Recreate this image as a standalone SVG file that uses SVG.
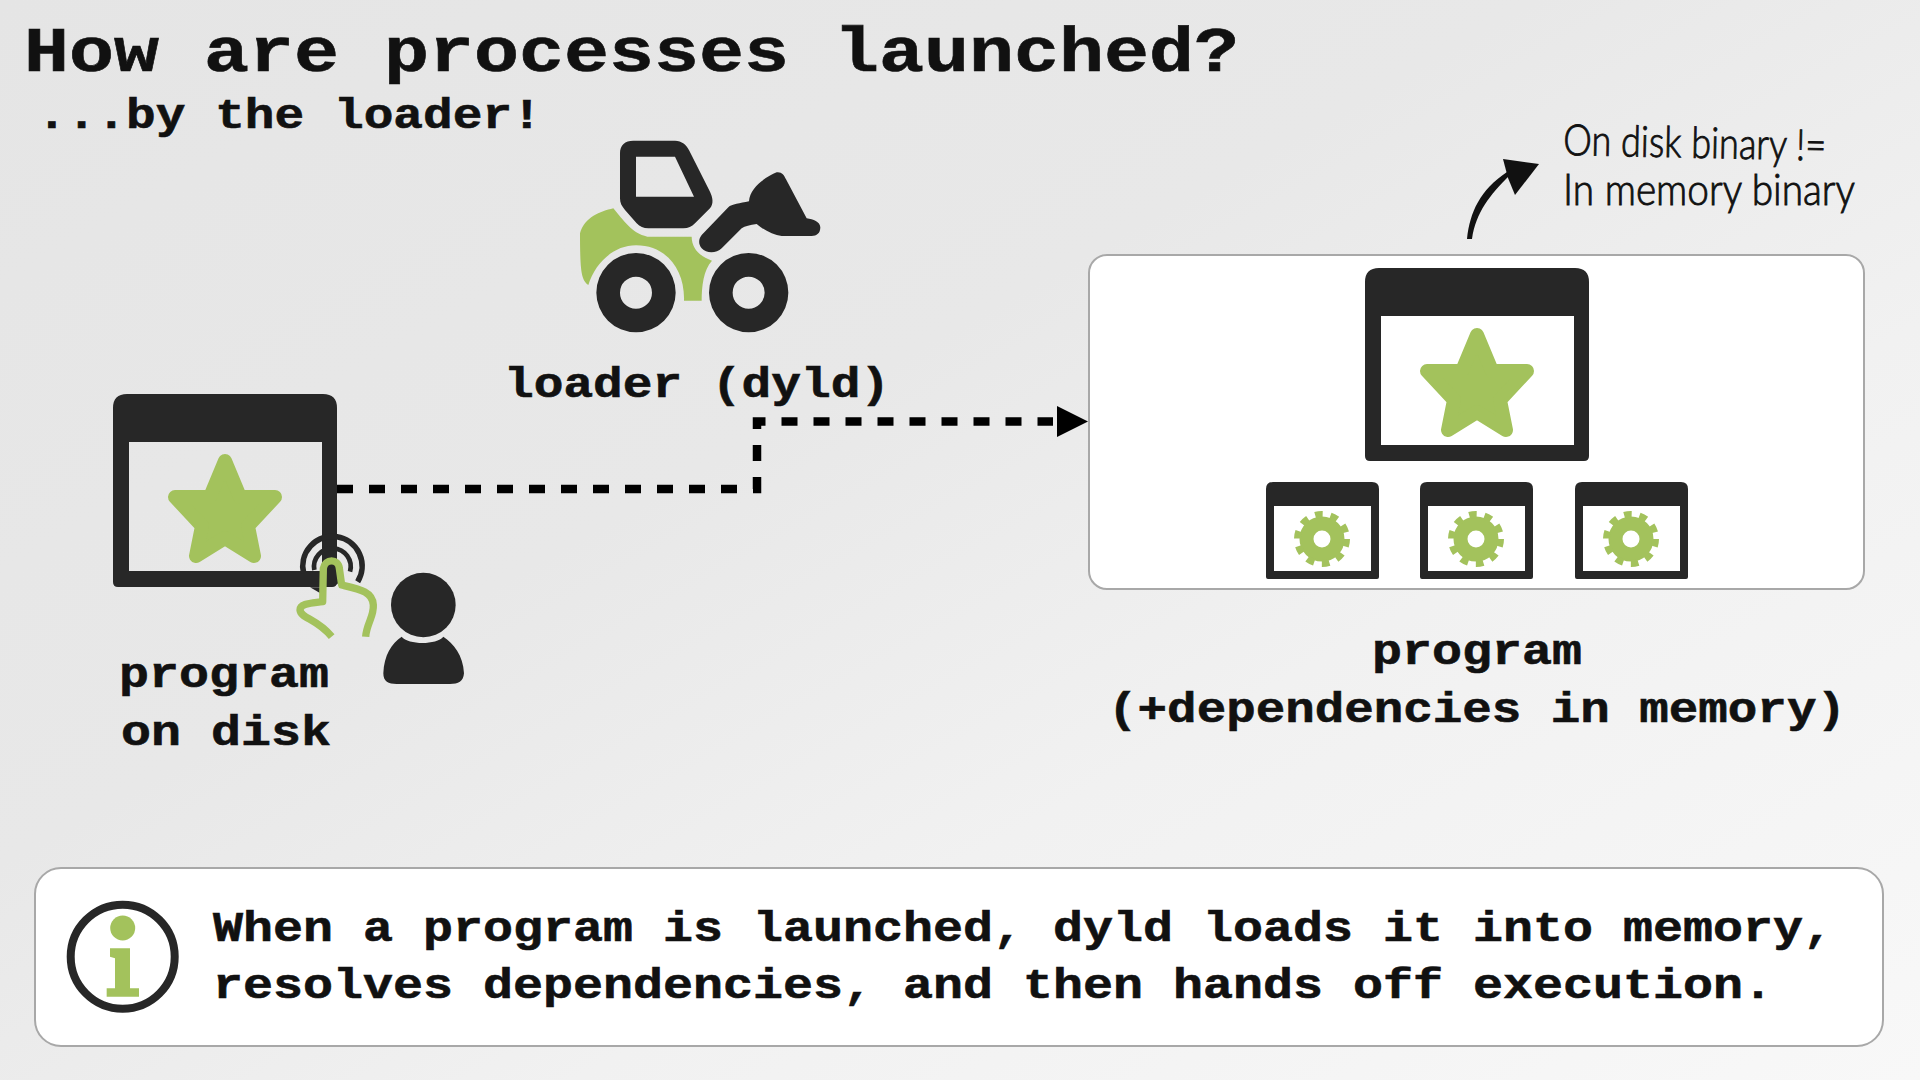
<svg xmlns="http://www.w3.org/2000/svg" xmlns:xlink="http://www.w3.org/1999/xlink" width="1920" height="1080" viewBox="0 0 1920 1080">
<style>
.t{font-family:"Liberation Mono","Courier New",monospace;font-weight:700;font-size:50px;fill:#111;stroke:#111;stroke-width:.7}
.m{text-anchor:middle}
.h{font-family:Lato,"Noto Sans",sans-serif;font-weight:300;font-size:43px;fill:#111;stroke:#111;stroke-width:.9}
.d{fill:#272727}
.g{fill:#a3c25c}
.box{fill:#fff;stroke:#a8a8a8;stroke-width:2}
</style>
<defs>
<linearGradient id="bg" x1="0" y1="0" x2="1" y2="1">
<stop offset="0" stop-color="#e5e5e5"/><stop offset=".4" stop-color="#e8e8e8"/><stop offset=".65" stop-color="#f1f1f1"/><stop offset="1" stop-color="#f8f8f8"/>
</linearGradient>
<marker id="ah" markerUnits="userSpaceOnUse" markerWidth="34" markerHeight="32" refX="-4" refY="16" orient="auto"><path d="M0 .5 L31 16 L0 31.5Z" fill="#000"/></marker>
<path id="win" fill-rule="evenodd" d="M127 394H323Q337 394 337 408V582Q337 587 332 587H118Q113 587 113 582V408Q113 394 127 394ZM129 442V571H322V442Z"/>
<path id="star" d="M225 461L240 497H275L248 526L254 556L225 538L196 556L202 526L175 497H210Z" fill="#a3c25c" stroke="#a3c25c" stroke-width="14" stroke-linejoin="round"/>
<g id="sw">
<path class="d" fill-rule="evenodd" d="M7 0H106Q113 0 113 7V95Q113 97 111 97H2Q0 97 0 95V7Q0 0 7 0ZM8 24V89H105V24Z"/>
<circle cx="56" cy="57" r="15.5" fill="none" stroke="#a3c25c" stroke-width="14"/>
<circle cx="56" cy="57" r="24.5" fill="none" stroke="#a3c25c" stroke-width="7" stroke-dasharray="7.6 7.8"/>
</g>
</defs>
<rect width="1920" height="1080" fill="url(#bg)"/>
<text class="t" transform="translate(24 71) scale(1 .85)" style="font-size:75px">How are processes launched?</text>
<text class="t" transform="translate(37 128) scale(1 .85)" style="font-size:49.5px">...by the loader!</text>

<g id="connectors">
<polyline points="337,489 757,489 757,421.5 1053,421.5" fill="none" stroke="#000" stroke-width="8.5" stroke-dasharray="16 16" marker-end="url(#ah)"/>
<path d="M1467 239C1470 212 1480 190 1507 172L1509 176C1490 195 1476 212 1472 239Z" fill="#111"/>
<path d="M1503 159L1539 164L1515 195L1508 178Z" fill="#111"/>
</g>

<g id="loader" transform="translate(560 120) scale(.33333)">
<path class="g" d="M160 265C190 300 215 340 262 350L395 350C395 385 420 410 456 422C430 450 425 500 425 542H372C375 450 320 376 228 376C160 376 105 430 85 495C65 480 60 460 60 340C75 290 120 275 160 265Z"/>
<path class="d" fill-rule="evenodd" d="M220 62H345C365 62 380 75 388 92L450 215C458 232 462 250 450 265L405 310C395 320 385 325 370 325H265C250 325 240 320 230 310L195 270C185 258 180 250 180 235V100C180 75 195 62 220 62ZM228 110V230H402L345 110Z"/>
<path class="d" d="M425 345L505 262C515 252 540 250 567 244C570 200 620 170 650 157C665 155 672 165 678 178L740 295C760 298 780 305 781 322C781 340 770 348 755 348H665C640 345 610 330 590 312C570 315 555 318 545 325L485 385C470 400 440 402 425 385C415 372 415 358 425 345Z"/>
<path class="d" fill-rule="evenodd" d="M228 399A119 119 0 1 0 228.1 637A119 119 0 1 0 228 399ZM228 470A48 48 0 1 1 227.9 566A48 48 0 1 1 228 470Z"/>
<path class="d" fill-rule="evenodd" d="M566 399A119 119 0 1 0 566.1 637A119 119 0 1 0 566 399ZM566 470A48 48 0 1 1 565.9 566A48 48 0 1 1 566 470Z"/>
</g>
<text class="t" transform="translate(504 397) scale(1 .85)" style="font-size:49.5px">loader (dyld)</text>

<g id="program-disk">
<use xlink:href="#win" href="#win" class="d"/>
<use xlink:href="#star" href="#star"/>
<g transform="translate(280 510) scale(.33333)" fill="none">
<path d="M71 190A89 89 0 1 1 233 215" stroke="#272727" stroke-width="17"/>
<path d="M103 180A55 55 0 1 1 210 185" stroke="#272727" stroke-width="14"/>
<path d="M90 232L125 232L125 252Z" fill="#272727"/>
<path d="M130 172H180V215Q160 235 130 230Z" fill="#272727"/>
<path d="M257 380C260 340 282 320 280 285C278 245 240 238 185 225L178 175C175 145 135 145 130 175L128 275C95 280 60 280 60 300C62 325 110 325 155 380" stroke="#a3c25c" stroke-width="22" stroke-linejoin="round"/>
</g>
<text class="t" transform="translate(119 687) scale(1 .85)">program</text>
<text class="t" transform="translate(121 745) scale(1 .85)">on disk</text>
</g>

<g id="user" transform="translate(100 380) scale(.33333)">
<circle class="d" cx="970" cy="675" r="97"/>
<path class="d" d="M905 770C925 795 1010 795 1030 770C1060 790 1090 825 1092 880C1090 905 1075 912 1050 912H890C865 912 850 905 850 880C852 825 875 790 905 770Z"/>
</g>

<g id="note">
<text class="h" transform="rotate(1.2 1563 155)" x="1563" y="155" textLength="263" lengthAdjust="spacingAndGlyphs">On disk binary !=</text>
<text class="h" x="1563" y="205" textLength="292" lengthAdjust="spacingAndGlyphs">In memory binary</text>
</g>

<g id="program-memory">
<rect class="box" x="1089" y="255" width="775" height="334" rx="18"/>
<g transform="translate(1252 -126)"><use xlink:href="#win" href="#win" class="d"/><use xlink:href="#star" href="#star"/></g>
<use xlink:href="#sw" href="#sw" x="1266" y="482"/>
<use xlink:href="#sw" href="#sw" x="1420" y="482"/>
<use xlink:href="#sw" href="#sw" x="1575" y="482"/>
<text class="t m" transform="translate(1477 664) scale(1 .85)">program</text>
<text class="t m" transform="translate(1477 722) scale(1 .85)" style="font-size:49.2px">(+dependencies in memory)</text>
</g>

<g id="info">
<rect class="box" x="35" y="868" width="1848" height="178" rx="26"/>
<circle cx="122.7" cy="956.7" r="52" fill="none" stroke="#272727" stroke-width="8"/>
<circle class="g" cx="122.7" cy="928" r="12.5"/>
<path class="g" transform="translate(20 860) scale(.33333)" d="M270 265H330V385H357V410H260V385H285V295L270 290Z"/>
<text class="t" transform="translate(213 941) scale(1 .85)">When a program is launched, dyld loads it into memory,</text>
<text class="t" transform="translate(213 998) scale(1 .85)">resolves dependencies, and then hands off execution.</text>
</g>
</svg>
